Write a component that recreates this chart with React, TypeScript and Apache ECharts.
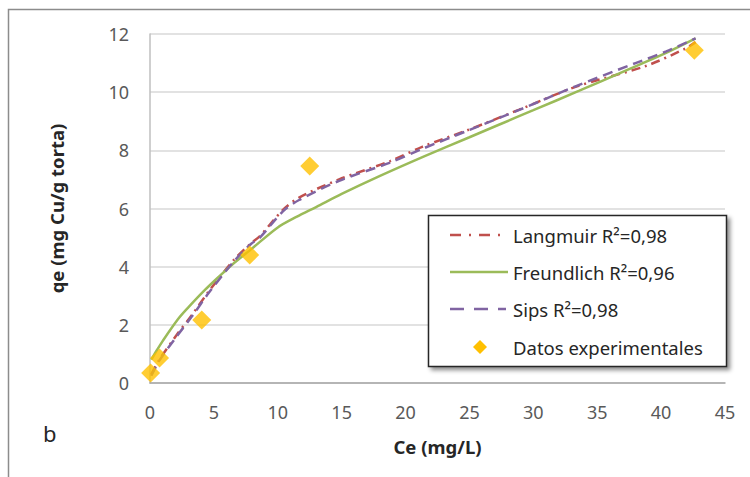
import React, { useEffect, useRef } from "react";
import * as echarts from "echarts";

const langmuirC = [0.1, 0.7, 2, 3.3, 4.6, 6.6, 7.9, 8.6, 10.4, 11.7, 14.8, 18.8, 21.3, 25, 28.9, 33.3, 38.8, 41.9, 42.7];
const langmuirQ = [0.3, 0.78, 1.6, 2.35, 3.15, 4.25, 4.8, 5.05, 5.95, 6.38, 7.0, 7.63, 8.12, 8.72, 9.4, 10.18, 10.9, 11.5, 11.72];

const freundlichC = [0.1, 0.5, 1, 2.2, 3, 4.3, 5.5, 6.4, 8, 10, 11.5, 13, 15, 18, 21.5, 25, 27.3, 30, 33.6, 37, 40, 42.7];
const freundlichQ = [0.8, 1.1, 1.45, 2.2, 2.6, 3.2, 3.7, 4.06, 4.63, 5.35, 5.72, 6.05, 6.5, 7.12, 7.8, 8.45, 8.88, 9.38, 10.05, 10.7, 11.27, 11.85];

const sipsC = [0.1, 0.7, 2, 3.3, 4.6, 6.6, 7.9, 8.6, 10.4, 11.7, 14.8, 18.8, 21.3, 25, 28.9, 33.3, 38, 40.4, 42.7];
const sipsQ = [0.25, 0.75, 1.55, 2.3, 3.1, 4.2, 4.78, 5.0, 5.9, 6.3, 6.95, 7.58, 8.05, 8.7, 9.39, 10.2, 11.0, 11.4, 11.85];

const expC = [0.05, 0.75, 4.05, 7.8, 12.5, 42.6];
const expQ = [0.34, 0.86, 2.17, 4.4, 7.46, 11.44];

const legendLabels = ["Langmuir R²=0,98", "Freundlich R²=0,96", "Sips R²=0,98", "Datos experimentales"];
const xTitle = "Ce (mg/L)";
const yTitle = "qe (mg Cu/g torta)";
const panelLabel = "b";

const RED = "#C0504D";
const GREEN = "#9BBB59";
const PURPLE = "#8064A2";
const GOLD = "#FFC000";
const FONT = "'Noto Sans', sans-serif";

const pairs = (xs: number[], ys: number[]) => xs.map((x, i) => [x, ys[i]]);

export default function App() {
  const ref = useRef<HTMLDivElement>(null);
  useEffect(() => {
    if (!ref.current) return;
    const chart = echarts.init(ref.current, undefined, { renderer: "svg" });
    const lx1 = 450, lx2 = 508, tx = 513;
    const rows = [235, 272, 309, 347];
    const legendText = (i: number) => ({
      type: "text",
      x: tx,
      y: rows[i],
      style: { text: legendLabels[i], font: `18.5px ${FONT}`, fill: "#262626", verticalAlign: "middle", align: "left" },
      z: 101,
    });
    chart.setOption({
      animation: false,
      backgroundColor: "#fff",
      grid: { left: 150, right: 25, top: 34, bottom: 94, containLabel: false },
      xAxis: {
        type: "value",
        min: 0,
        max: 45,
        interval: 5,
        name: xTitle,
        nameLocation: "middle",
        nameGap: 54,
        nameTextStyle: { fontFamily: FONT, fontWeight: "bold", fontSize: 18.5, color: "#262626" },
        axisLine: { show: true, lineStyle: { color: "#A6A6A6", width: 1.5 } },
        axisTick: { show: false },
        splitLine: { show: false },
        axisLabel: { fontFamily: FONT, fontSize: 18, color: "#595959", margin: 20 },
      },
      yAxis: {
        type: "value",
        min: 0,
        max: 12,
        interval: 2,
        name: yTitle,
        nameLocation: "middle",
        nameGap: 84,
        nameTextStyle: { fontFamily: FONT, fontWeight: "bold", fontSize: 18.5, color: "#262626" },
        axisLine: { show: true, lineStyle: { color: "#BFBFBF", width: 1.5 } },
        axisTick: { show: false },
        splitLine: { show: true, lineStyle: { color: "#D9D9D9", width: 1.5 } },
        axisLabel: { fontFamily: FONT, fontSize: 18, color: "#595959", margin: 21 },
      },
      series: [
        {
          name: legendLabels[0],
          type: "line",
          data: pairs(langmuirC, langmuirQ),
          showSymbol: false,
          smooth: 0.3,
          lineStyle: { color: RED, width: 2.5, type: [9, 5, 2, 5] },
          z: 2,
        },
        {
          name: legendLabels[1],
          type: "line",
          data: pairs(freundlichC, freundlichQ),
          showSymbol: false,
          smooth: 0.3,
          lineStyle: { color: GREEN, width: 2.5, type: "solid" },
          z: 3,
        },
        {
          name: legendLabels[2],
          type: "line",
          data: pairs(sipsC, sipsQ),
          showSymbol: false,
          smooth: 0.3,
          lineStyle: { color: PURPLE, width: 2.5, type: [10, 6] },
          z: 4,
        },
        {
          name: legendLabels[3],
          type: "scatter",
          data: pairs(expC, expQ),
          symbol: "diamond",
          symbolSize: 19,
          itemStyle: { color: GOLD },
          z: 5,
        },
      ],
      graphic: [
        {
          type: "rect",
          shape: { x: 8.5, y: 9.5, width: 800, height: 500 },
          style: { fill: "none", stroke: "#8C8C8C", lineWidth: 1.5 },
          z: 0,
          silent: true,
        },
        {
          type: "text",
          x: 43,
          y: 433,
          style: { text: panelLabel, font: `22px ${FONT}`, fill: "#262626", verticalAlign: "middle" },
          z: 100,
        },
        {
          type: "rect",
          shape: { x: 428.5, y: 215.5, width: 298, height: 151 },
          style: {
            fill: "#fff",
            stroke: "#262626",
            lineWidth: 1.5,
            shadowBlur: 4,
            shadowOffsetX: 3,
            shadowOffsetY: 3,
            shadowColor: "rgba(0,0,0,0.45)",
          },
          z: 100,
        },
        {
          type: "line",
          shape: { x1: lx1, y1: rows[0], x2: lx2, y2: rows[0] },
          style: { stroke: RED, lineWidth: 2.5, lineDash: [11, 8, 2, 8] },
          z: 101,
        },
        {
          type: "line",
          shape: { x1: lx1, y1: rows[1], x2: lx2, y2: rows[1] },
          style: { stroke: GREEN, lineWidth: 2.5 },
          z: 101,
        },
        {
          type: "line",
          shape: { x1: lx1, y1: rows[2], x2: lx2 - 2, y2: rows[2] },
          style: { stroke: PURPLE, lineWidth: 2.5, lineDash: [14, 10] },
          z: 101,
        },
        {
          type: "polygon",
          shape: { points: [[480, rows[3] - 7], [487, rows[3]], [480, rows[3] + 7], [473, rows[3]]] },
          style: { fill: GOLD },
          z: 101,
        },
        legendText(0),
        legendText(1),
        legendText(2),
        legendText(3),
      ],
    });
    return () => chart.dispose();
  }, []);
  return (
    <div style={{ position: "absolute", left: 0, top: 0, width: 750, height: 477, background: "#fff" }}>
      <div ref={ref} style={{ width: 750, height: 477 }} />
    </div>
  );
}
